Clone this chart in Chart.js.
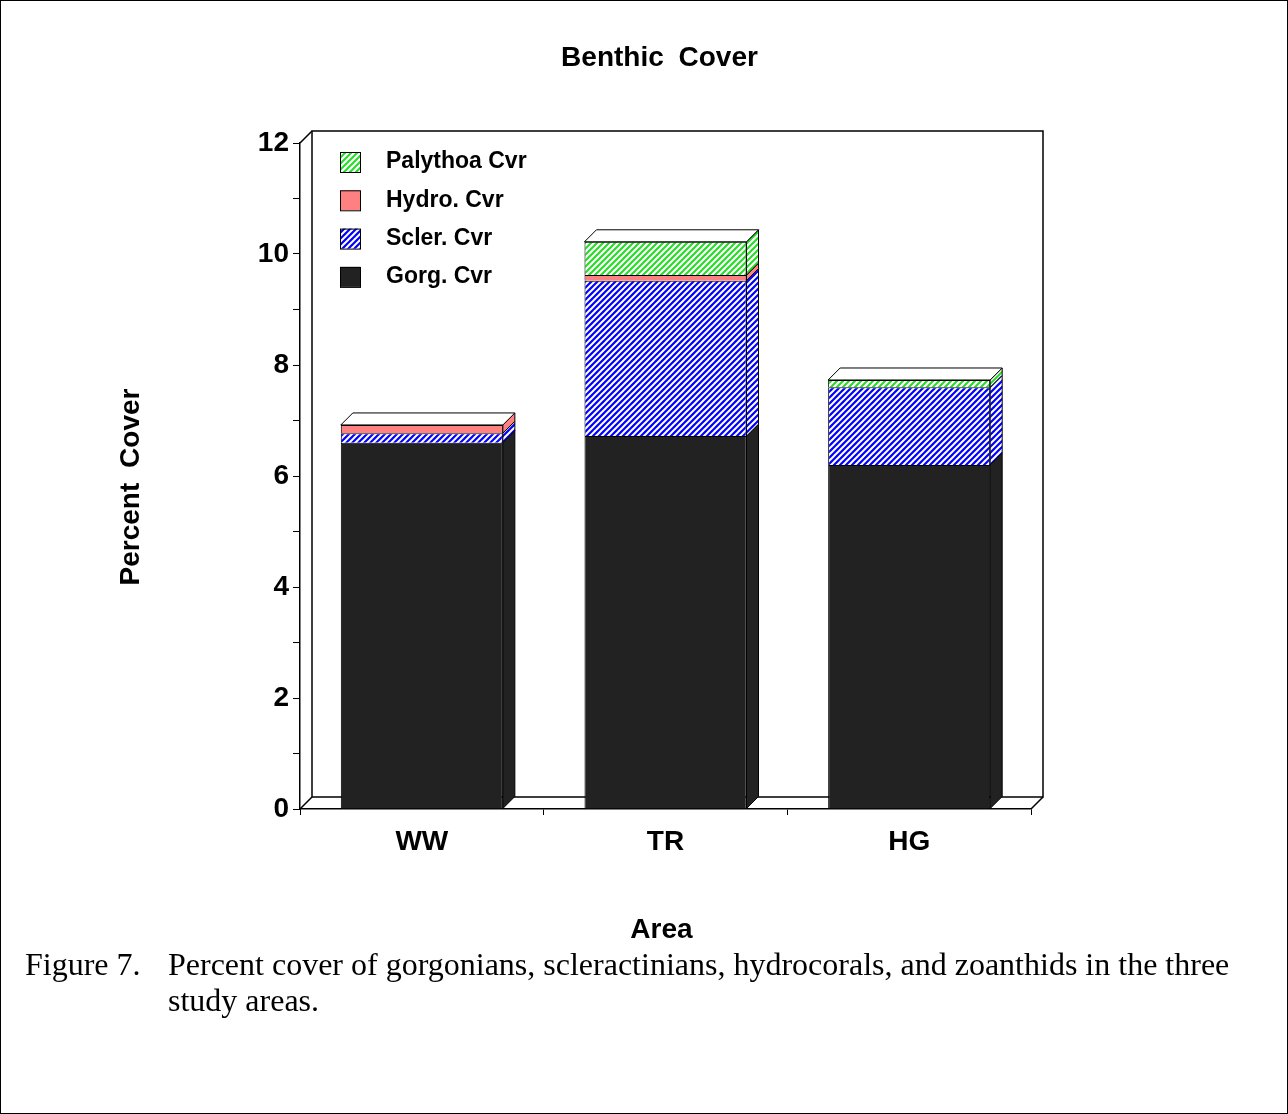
<!DOCTYPE html>
<html>
<head>
<meta charset="utf-8">
<script src="https://cdn.jsdelivr.net/npm/chart.js@4.4.0/dist/chart.umd.min.js"></script>
<style>
html, body { margin: 0; padding: 0; background: #fff; }
#wrap { position: relative; width: 1288px; height: 1114px; }
#frame { position: absolute; left: 0; top: 0; width: 1286px; height: 1112px; border: 1px solid #000; pointer-events: none; }
#caption {
    position: absolute; left: 25px; top: 946px; width: 1225px;
    font-family: "Liberation Serif", "Times New Roman", serif; font-size: 32px; line-height: 36px;
    padding-left: 143px; text-indent: -143px; box-sizing: border-box;
}
#caption .fig { display: inline-block; width: 143px; text-indent: 0; }
</style>
</head>
<body>
<div id="wrap">
    <canvas id="chart" width="1288" height="1114"></canvas>
    <div id="frame"></div>
    <div id="caption"><span class="fig">Figure 7.</span>Percent cover of gorgonians, scleractinians, hydrocorals, and zoanthids in the three study areas.</div>
</div>
<script>
// data
const areas = ['WW', 'TR', 'HG'];
const gorgCvr = [6.6, 6.72, 6.2];
const sclerCvr = [0.17, 2.8, 1.4];
const hydroCvr = [0.15, 0.1, 0];
const palythoaCvr = [0, 0.6, 0.13];
const yMax = 12;

const DX = 12, DY = -12;   // depth offset for the fake 3D look
const FONT = "'Liberation Sans', Arial, sans-serif";

var canvas = document.getElementById('chart');
var ctx = canvas.getContext('2d');

// diagonal hatch pattern
function stripes(bg, fg, size) {
    var tile = document.createElement('canvas');
    tile.width = tile.height = size;
    var g = tile.getContext('2d');
    g.fillStyle = bg;
    g.fillRect(0, 0, size, size);
    g.strokeStyle = fg;
    g.lineWidth = size / 3;
    g.beginPath();
    g.moveTo(-1, size + 1); g.lineTo(size + 1, -1);
    g.moveTo(-1, 1); g.lineTo(1, -1);
    g.moveTo(size - 1, size + 1); g.lineTo(size + 1, size - 1);
    g.stroke();
    return ctx.createPattern(tile, 'repeat');
}

var bluePattern = stripes('#0000ff', '#ffffff', 6);
var greenPattern = stripes('#ffffff', '#22dd22', 6);

// side faces, top caps, back wall, legend and titles
const depthPlugin = {
    id: 'depth',
    beforeDatasetsDraw(chart) {
        const a = chart.chartArea;
        const c = chart.ctx;
        c.save();
        c.strokeStyle = '#000';
        c.lineWidth = 1.5;
        c.fillStyle = '#fff';
        c.beginPath();
        c.rect(a.left + DX, a.top + DY, a.right - a.left, a.bottom - a.top);
        c.fill();
        c.stroke();
        c.beginPath();
        c.moveTo(a.left, a.top); c.lineTo(a.left + DX, a.top + DY);
        c.moveTo(a.left, a.bottom); c.lineTo(a.left + DX, a.bottom + DY);
        c.moveTo(a.right, a.bottom); c.lineTo(a.right + DX, a.bottom + DY);
        c.stroke();
        c.restore();
    },
    afterDatasetsDraw(chart) {
        const c = chart.ctx;
        c.save();
        c.strokeStyle = '#000';
        c.lineWidth = 1;
        const n = chart.data.datasets.length;
        for (let d = 0; d < n; d++) {
            const meta = chart.getDatasetMeta(d);
            const ds = chart.data.datasets[d];
            meta.data.forEach(bar => {
                if (Math.abs(bar.base - bar.y) < 0.5) return;
                const r = bar.x + bar.width / 2;
                c.beginPath();
                c.moveTo(r, bar.y);
                c.lineTo(r + DX, bar.y + DY);
                c.lineTo(r + DX, bar.base + DY);
                c.lineTo(r, bar.base);
                c.closePath();
                c.fillStyle = ds.backgroundColor;
                c.fill();
                c.stroke();
            });
        }
        // top caps
        const top = chart.getDatasetMeta(n - 1);
        top.data.forEach(bar => {
            const l = bar.x - bar.width / 2, r = bar.x + bar.width / 2;
            c.beginPath();
            c.moveTo(l, bar.y);
            c.lineTo(l + DX, bar.y + DY);
            c.lineTo(r + DX, bar.y + DY);
            c.lineTo(r, bar.y);
            c.closePath();
            c.fillStyle = '#fff';
            c.fill();
            c.stroke();
        });
        c.restore();
    },
    afterDraw(chart) {
        const a = chart.chartArea;
        const c = chart.ctx;
        c.save();
        // legend, top item first
        c.font = 'bold 23px ' + FONT;
        c.textBaseline = 'middle';
        c.textAlign = 'left';
        const items = chart.data.datasets.slice().reverse();
        items.forEach((ds, i) => {
            const cy = 162 + i * 38.3;
            c.fillStyle = ds.backgroundColor;
            c.fillRect(340, cy - 10, 20, 20);
            c.strokeStyle = '#000';
            c.lineWidth = 1;
            c.strokeRect(340.5, cy - 9.5, 20, 20);
            c.fillStyle = '#000';
            c.fillText(ds.label, 386, cy);
        });
        // titles
        c.font = 'bold 28px ' + FONT;
        c.textAlign = 'center';
        c.fillStyle = '#000';
        c.wordSpacing = '7px';
        c.fillText('Benthic Cover', (a.left + a.right) / 2 - 6, 58);
        c.fillText('Area', (a.left + a.right) / 2 - 4, 930);
        c.translate(131, 487);
        c.rotate(-Math.PI / 2);
        c.fillText('Percent Cover', 0, 0);
        c.restore();
    }
};

var benthicChart = new Chart(ctx, {
    type: 'bar',
    data: {
        labels: areas,
        datasets: [
            { label: 'Gorg. Cvr', data: gorgCvr, backgroundColor: '#222222' },
            { label: 'Scler. Cvr', data: sclerCvr, backgroundColor: bluePattern },
            { label: 'Hydro. Cvr', data: hydroCvr, backgroundColor: '#ff8080' },
            { label: 'Palythoa Cvr', data: palythoaCvr, backgroundColor: greenPattern }
        ]
    },
    options: {
        responsive: false,
        animation: false,
        devicePixelRatio: 1,
        datasets: {
            bar: {
                borderColor: '#000',
                borderWidth: 1,
                categoryPercentage: 1,
                barPercentage: 0.665
            }
        },
        layout: {
            padding: { left: 0, top: 143, right: 257, bottom: 245 }
        },
        plugins: {
            legend: { display: false },
            tooltip: { enabled: false }
        },
        scales: {
            x: {
                stacked: true,
                afterFit: s => { s.height = 60; },
                grid: {
                    offset: true,
                    drawOnChartArea: false,
                    tickLength: 6,
                    color: '#000'
                },
                border: { color: '#000', width: 1.5 },
                ticks: {
                    color: '#000',
                    padding: 10,
                    font: { family: FONT, size: 28, weight: 'bold' }
                }
            },
            y: {
                stacked: true,
                min: 0,
                max: yMax,
                afterFit: s => { s.width = 300; },
                grid: {
                    drawOnChartArea: false,
                    tickLength: 7,
                    color: '#000'
                },
                border: { color: '#000', width: 1.5 },
                ticks: {
                    stepSize: 1,
                    color: '#000',
                    padding: 4,
                    font: { family: FONT, size: 28, weight: 'bold' },
                    callback: v => (v % 2 === 0 ? v : '')
                }
            }
        }
    },
    plugins: [depthPlugin]
});
</script>
</body>
</html>
